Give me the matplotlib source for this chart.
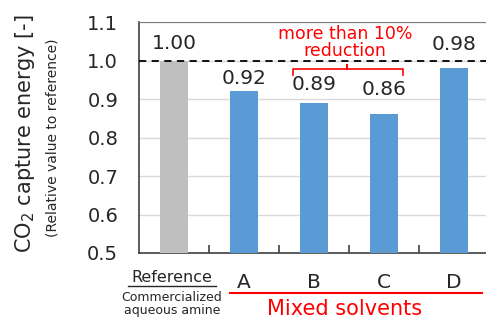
import matplotlib
matplotlib.use("Agg")
import matplotlib.pyplot as plt
import numpy as np

plt.rcParams['font.family'] = ['DejaVu Sans']
plt.rcParams['mathtext.fontset'] = 'dejavusans'

# data
categories = ['Reference', 'A', 'B', 'C', 'D']
values = [1.00, 0.92, 0.89, 0.86, 0.98]
value_labels = ['1.00', '0.92', '0.89', '0.86', '0.98']
bar_colors = ['#BFBFBF', '#5B9BD5', '#5B9BD5', '#5B9BD5', '#5B9BD5']
yticks = [0.5, 0.6, 0.7, 0.8, 0.9, 1.0, 1.1]

txt = '#262626'
red = '#FF0000'

fig = plt.figure(figsize=(4.86, 3.22), dpi=100)
ax = fig.add_axes([139 / 486, 1 - 253 / 322, 350 / 486, 231 / 322])

x = np.arange(len(categories))
ax.bar(x, values, width=0.41, color=bar_colors, zorder=3)

ax.set_xlim(-0.5, len(categories) - 0.5)
ax.set_ylim(0.5, 1.1)
ax.set_yticks(yticks)
ax.set_yticklabels([f"{t:.1f}" for t in yticks], fontsize=14, color=txt)
ax.tick_params(axis='y', length=0, pad=15)
ax.grid(axis='y', color='#D9D9D9', linewidth=1, zorder=0)

# category separators on the bottom axis
ax.set_xticks(x[:-1] + 0.5)
ax.set_xticklabels([])
ax.tick_params(axis='x', direction='in', length=6, width=1.2, color='#404040')

for s in ['left', 'bottom']:
    ax.spines[s].set_color('#404040')
    ax.spines[s].set_linewidth(1.2)
ax.spines['top'].set_color('#808080')
ax.spines['right'].set_visible(False)

# reference line
ax.axhline(1.0, color='black', linestyle=(0, (4, 3)), linewidth=1.3, zorder=4)

# value labels (hand placed above each bar, in points)
label_offsets = [12, 9, 13, 18, 17]
for xi, v, lab, off in zip(x, values, value_labels, label_offsets):
    ax.annotate(lab, (xi, v), xytext=(0, off), textcoords='offset points',
                ha='center', va='center', fontsize=14.5, color=txt)

# bracket for B and C
bx0, bx1, by = 1.7, 3.27, 0.978
bxm = 2.47
ax.plot([bx0, bx0, bxm, bxm, bxm, bx1, bx1],
        [by - 0.016, by, by, by + 0.01, by, by, by - 0.016],
        color=red, linewidth=1.2, clip_on=False, zorder=5)
ax.text(2.44, 1.047, 'more than 10%\nreduction', color=red, fontsize=12.5,
        ha='center', va='center', linespacing=0.95)

# y axis labels
fig.text(25 / 486, 1 - 134 / 322, 'CO$_2$ capture energy [-]', rotation=90,
         ha='center', va='center', fontsize=15, color=txt)
fig.text(53 / 486, 1 - 138 / 322, '(Relative value to reference)', rotation=90,
         ha='center', va='center', fontsize=10, color=txt)

# category labels below
fig.text(172 / 486, 1 - 277 / 322, 'Reference', ha='center', va='center',
         fontsize=11.5, color=txt)
fig.add_artist(plt.Line2D([128 / 486, 216 / 486], [1 - 286 / 322] * 2,
                          color=txt, linewidth=1))
fig.text(172 / 486, 1 - 304 / 322, 'Commercialized\naqueous amine',
         ha='center', va='center', fontsize=9, color=txt, linespacing=0.95)
for xi, c in zip(x[1:], categories[1:]):
    px = (139 + 70 * xi + 35) / 486
    fig.text(px, 1 - 282 / 322, c, ha='center', va='center', fontsize=14.5,
             color=txt)
fig.add_artist(plt.Line2D([230 / 486, 482 / 486], [1 - 293 / 322] * 2,
                          color=red, linewidth=1.5))
fig.text(345 / 486, 1 - 309 / 322, 'Mixed solvents', ha='center', va='center',
         fontsize=15, color=red)

fig.savefig('out.png', dpi=100)
